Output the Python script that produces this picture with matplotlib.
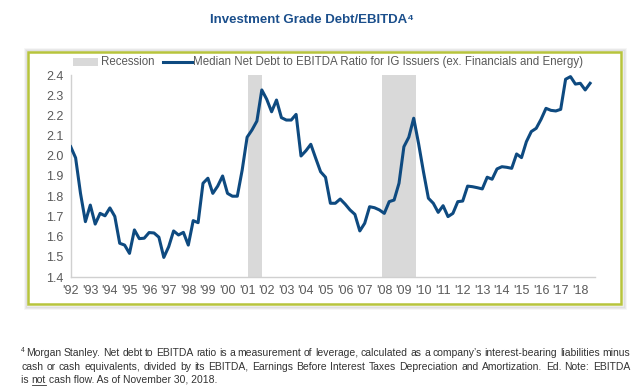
import matplotlib
matplotlib.use("Agg")
import matplotlib.pyplot as plt
from matplotlib.patches import Rectangle
from matplotlib.lines import Line2D

plt.rcParams["font.family"] = ["Liberation Sans", "DejaVu Sans"]

# quarterly median net debt / EBITDA, 1992Q1 .. 2018Q3
ratio = [
    2.045, 1.99, 1.814, 1.674, 1.756, 1.662, 1.715, 1.703, 1.742, 1.70,
    1.567, 1.558, 1.517, 1.633, 1.59, 1.592, 1.62, 1.618, 1.597, 1.497,
    1.55, 1.628, 1.608, 1.621, 1.558, 1.679, 1.669, 1.864, 1.889, 1.814,
    1.85, 1.90, 1.814, 1.80, 1.80, 1.93, 2.092, 2.128, 2.172, 2.326,
    2.28, 2.218, 2.276, 2.189, 2.177, 2.177, 2.205, 1.999, 2.025, 2.057,
    1.988, 1.921, 1.894, 1.765, 1.765, 1.786, 1.761, 1.732, 1.71, 1.628,
    1.666, 1.748, 1.743, 1.732, 1.715, 1.773, 1.781, 1.864, 2.045, 2.092,
    2.186, 2.06, 1.92, 1.79, 1.765, 1.72, 1.753, 1.699, 1.715, 1.773,
    1.776, 1.85, 1.847, 1.842, 1.836, 1.894, 1.884, 1.935, 1.946, 1.943,
    1.938, 2.009, 1.991, 2.07, 2.12, 2.136, 2.181, 2.235, 2.225, 2.222,
    2.23, 2.379, 2.392, 2.355, 2.359, 2.326, 2.359,
]
years = list(range(1992, 2019))
year_labels = ["'%02d" % (y % 100) for y in years]
# recession spans, in quarters since 1992Q1
recession_start = [36.2, 63.5]
recession_end = [39.0, 70.4]
y_ticks = [1.4, 1.5, 1.6, 1.7, 1.8, 1.9, 2.0, 2.1, 2.2, 2.3, 2.4]

NAVY = "#0E4A80"
GREY_TXT = "#595959"
REC = "#D9D9D9"

W, H = 638, 392
fig = plt.figure(figsize=(W / 100, H / 100), dpi=100)
fig.patch.set_facecolor("white")


def fx(px):
    return px / W


def fy(py):
    return 1 - py / H


# framed panel with soft shadow
BX0, BY0, BX1, BY1 = 28, 52, 621, 304
for off, a in [(4, 0.03), (3, 0.05), (2, 0.07)]:
    fig.patches.append(Rectangle((fx(BX0 - off + 1), fy(BY1 + off + 1)), (BX1 - BX0 + 2 * off) / W,
                                 (BY1 - BY0 + 2 * off) / H, transform=fig.transFigure, facecolor="none",
                                 edgecolor="black", alpha=a, lw=1.5, zorder=0))
fig.patches.append(Rectangle((fx(BX0), fy(BY1)), (BX1 - BX0) / W, (BY1 - BY0) / H, transform=fig.transFigure,
                             facecolor="white", edgecolor="#B7C43C", lw=1.8, zorder=1))

ax = fig.add_axes([fx(70.7), fy(277), 524.3 / W, 202 / H])
ax.set_zorder(2)
ax.patch.set_alpha(0)

x = list(range(len(ratio)))
for s, e in zip(recession_start, recession_end):
    ax.axvspan(s, e, color=REC, lw=0, zorder=1)
ax.plot(x, ratio, color=NAVY, lw=2.2, solid_joinstyle="round", zorder=3)

ax.set_xlim(0, 107)
ax.set_ylim(1.4, 2.4)
ax.set_yticks(y_ticks)
ax.set_yticklabels(["%.1f" % v for v in y_ticks])
ax.set_xticks([4 * (y - 1992) for y in years])
ax.set_xticklabels(year_labels)
ax.tick_params(axis="both", length=0, labelsize=9, colors=GREY_TXT, pad=5)
ax.tick_params(axis="x", pad=6)
for side in ["top", "right"]:
    ax.spines[side].set_visible(False)
for side in ["left", "bottom"]:
    ax.spines[side].set_color("#D0D0D0")
    ax.spines[side].set_linewidth(1.0)

# legend, drawn by hand
ly = fy(62)
fig.patches.append(Rectangle((fx(73), ly - 3.5 / H), fx(25), 7 / H, transform=fig.transFigure,
                             facecolor=REC, edgecolor="none", zorder=3))
fig.text(fx(101), ly, "Recession", fontsize=8.3, color=GREY_TXT, va="center", ha="left")
fig.lines.append(Line2D([fx(163), fx(192)], [ly, ly], transform=fig.transFigure, color=NAVY, lw=2.2))
fig.text(fx(193), ly, "Median Net Debt to EBITDA Ratio for IG Issuers (ex. Financials and Energy)",
         fontsize=8.3, color=GREY_TXT, va="center", ha="left")

# title
fig.text(fx(312), fy(20), "Investment Grade Debt/EBITDA\u2074", fontsize=9.5, fontweight="bold",
         color="#1B4F8C", ha="center", va="center")

# footnote, justified
renderer = fig.canvas.get_renderer()
FN = 7.5
FN_COL = "#333333"


def justified(line, y, left, right):
    words = line.split(" ")
    widths = []
    for w in words:
        t = fig.text(0, 0, w, fontsize=FN)
        widths.append(t.get_window_extent(renderer).width)
        t.remove()
    gap = (right - left - sum(widths)) / (len(words) - 1)
    xp = left
    for w, wd in zip(words, widths):
        fig.text(fx(xp), fy(y), w, fontsize=FN, color=FN_COL, va="center", ha="left")
        xp += wd + gap


fig.text(fx(21), fy(350), "4", fontsize=4.8, color=FN_COL, va="center", ha="left")
justified("Morgan Stanley. Net debt to EBITDA ratio is a measurement of leverage, calculated as a company\u2019s "
          "interest-bearing liabilities minus", 353, 26, 630)
justified("cash or cash equivalents, divided by its EBITDA, Earnings Before Interest Taxes Depreciation and "
          "Amortization. Ed. Note: EBITDA", 366.5, 21, 630)
t1 = fig.text(fx(21), fy(380), "is ", fontsize=FN, color=FN_COL, va="center", ha="left")
w1 = t1.get_window_extent(renderer).width
t2 = fig.text(fx(21 + w1), fy(380), "not", fontsize=FN, color=FN_COL, va="center", ha="left")
w2 = t2.get_window_extent(renderer).width
fig.lines.append(Line2D([fx(21 + w1), fx(21 + w1 + w2)], [fy(384.5), fy(384.5)], transform=fig.transFigure,
                        color=FN_COL, lw=0.6))
fig.text(fx(21 + w1 + w2), fy(380), " cash flow. As of November 30, 2018.", fontsize=FN, color=FN_COL,
         va="center", ha="left")

fig.savefig("out.png", dpi=100)
